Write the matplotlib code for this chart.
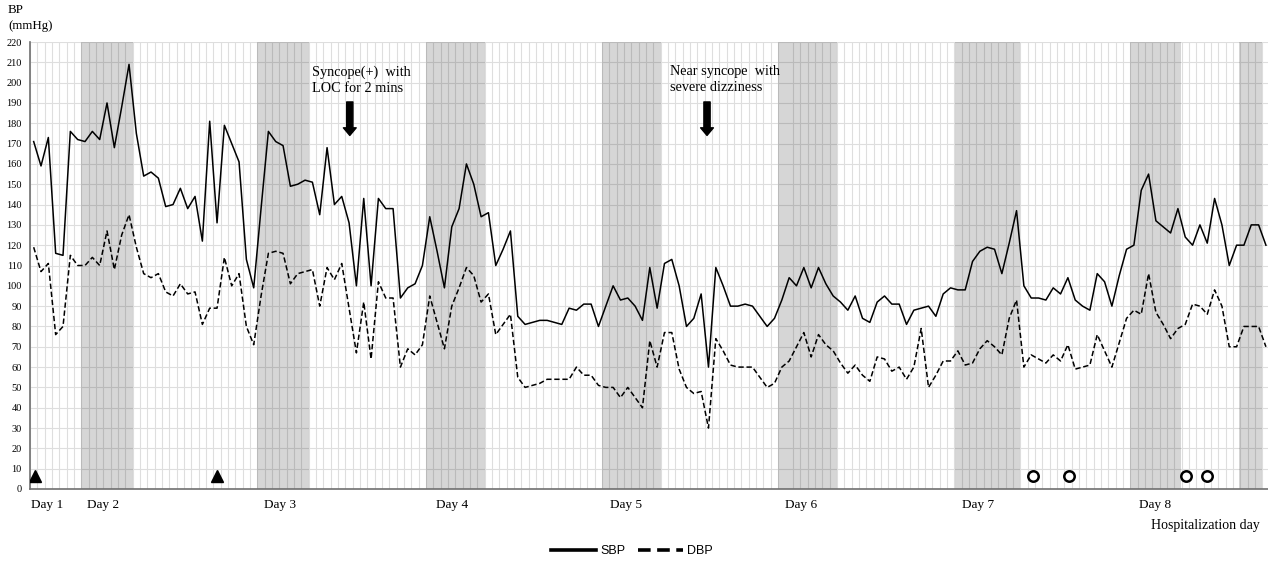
import numpy as np
import matplotlib
matplotlib.use("Agg")
import matplotlib.pyplot as plt

# hourly blood pressure readings (mmHg)
sbp = [171, 159, 173, 116, 115, 176, 172, 171, 176, 172,
       190, 168, 188, 209, 175, 154, 156, 153, 139, 140,
       148, 138, 144, 122, 181, 131, 179, 170, 161, 113,
       99, 138, 176, 171, 169, 149, 150, 152, 151, 135,
       168, 140, 144, 131, 100, 143, 100, 143, 138, 138,
       94, 99, 101, 110, 134, 117, 99, 129, 138, 160,
       150, 134, 136, 110, 118, 127, 85, 81, 82, 83,
       83, 82, 81, 89, 88, 91, 91, 80, 90, 100,
       93, 94, 90, 83, 109, 89, 111, 113, 100, 80,
       84, 96, 60, 109, 100, 90, 90, 91, 90, 85,
       80, 84, 93, 104, 100, 109, 99, 109, 101, 95,
       92, 88, 95, 84, 82, 92, 95, 91, 91, 81,
       88, 89, 90, 85, 96, 99, 98, 98, 112, 117,
       119, 118, 106, 121, 137, 100, 94, 94, 93, 99,
       96, 104, 93, 90, 88, 106, 102, 90, 105, 118,
       120, 147, 155, 132, 129, 126, 138, 124, 120, 130,
       121, 143, 130, 110, 120, 120, 130, 130, 120]

dbp = [119, 107, 111, 76, 80, 115, 110, 110, 114, 110,
       127, 108, 125, 135, 119, 106, 104, 106, 97, 95,
       101, 96, 97, 81, 89, 89, 114, 100, 106, 80,
       71, 95, 116, 117, 116, 101, 106, 107, 108, 90,
       109, 103, 111, 89, 67, 92, 64, 102, 94, 94,
       60, 69, 66, 71, 95, 82, 69, 90, 99, 109,
       105, 92, 96, 76, 81, 86, 55, 50, 51, 52,
       54, 54, 54, 54, 60, 56, 56, 51, 50, 50,
       45, 50, 45, 40, 73, 60, 77, 77, 59, 50,
       47, 48, 30, 74, 68, 61, 60, 60, 60, 55,
       50, 52, 60, 63, 70, 77, 65, 76, 71, 68,
       62, 57, 61, 56, 53, 65, 64, 58, 60, 54,
       60, 79, 50, 56, 63, 63, 68, 61, 62, 69,
       73, 70, 66, 84, 93, 60, 66, 64, 62, 66,
       63, 71, 59, 60, 61, 76, 68, 60, 72, 84,
       88, 86, 106, 87, 81, 74, 79, 81, 91, 90,
       86, 98, 90, 70, 70, 80, 80, 80, 70]

# night-time shading, in reading index units
night_bands = [(6.45, 13.6), (30.5, 37.6), (53.55, 61.5), (77.45, 85.5),
               (101.5, 109.5), (125.6, 134.45), (149.45, 156.4), (164.3, 167.4)]

day_labels = ["Day 1", "Day 2", "Day 3", "Day 4", "Day 5", "Day 6", "Day 7", "Day 8"]
day_pos = [-0.3, 7.3, 31.4, 54.9, 78.6, 102.5, 126.6, 150.7]

triangle_pos = [0.2, 25]
circle_pos = [136.2, 141.2, 157.1, 159.9]
marker_level = 6.4

event_pos = [43.1, 91.8]
event_text = ["Syncope(+)  with\nLOC for 2 mins", "Near syncope  with\nsevere dizziness"]
event_text_x = [37.9, 86.7]

serif = "Liberation Serif"
W, H = 1268, 563

fig = plt.figure(figsize=(W / 100, H / 100), dpi=100)
ax = fig.add_axes([30 / W, 74 / H, 1239.6 / W, 447 / H])

x = np.arange(len(sbp))

for a, b in night_bands:
    ax.axvspan(a, b, color="k", alpha=0.16, lw=0, zorder=1)

ax.plot(x, sbp, color="k", lw=1.1, zorder=3, label="SBP")
ax.plot(x, dbp, color="k", lw=1.1, ls=(0, (3.5, 1.8)), zorder=3, label="DBP")

ax.plot(triangle_pos, [marker_level] * len(triangle_pos), ls="none", marker="^",
        ms=9, color="k", zorder=4)
ax.plot(circle_pos, [marker_level] * len(circle_pos), ls="none", marker="o",
        ms=7.5, mfc="white", mec="k", mew=1.8, zorder=4)

for xp, txt, tx in zip(event_pos, event_text, event_text_x):
    ax.text(tx, 208.6, txt, fontsize=10.3, family=serif, va="top", ha="left",
            linespacing=1.3, zorder=5)
    ax.annotate("", xy=(xp, 174), xytext=(xp, 190.5),
                arrowprops=dict(arrowstyle="simple,head_width=0.92,head_length=0.55,tail_width=0.45",
                                mutation_scale=10, color="k", shrinkA=0, shrinkB=0), zorder=5)

ax.set_xlim(-0.5, len(sbp) - 0.5)
ax.set_ylim(0, 220)
ax.set_yticks(np.arange(0, 221, 10))
ax.set_xticks(day_pos, day_labels)
ax.set_xticks(np.arange(-0.5, len(sbp), 1), minor=True)
for lab in ax.get_xticklabels():
    lab.set_horizontalalignment("left")
    lab.set_family(serif)
    lab.set_fontsize(9.5)
for lab in ax.get_yticklabels():
    lab.set_family(serif)
    lab.set_fontsize(7.5)
ax.tick_params(axis="both", which="both", length=0)
ax.tick_params(axis="x", pad=7)
ax.tick_params(axis="y", pad=6)

ax.grid(False)
ax.xaxis.grid(True, which="minor", color="#dedede", lw=0.8, zorder=0)
ax.yaxis.grid(True, which="major", color="#dedede", lw=0.8, zorder=0)
ax.set_axisbelow(True)

for s in ["top", "right"]:
    ax.spines[s].set_visible(False)
for s in ["left", "bottom"]:
    ax.spines[s].set_color("#707070")
    ax.spines[s].set_linewidth(1.2)

fig.text(8 / W, 1 - 4 / H, "BP\n(mmHg)", fontsize=9.3, family=serif, va="top", ha="left",
         linespacing=1.5)
fig.text(1260 / W, 1 - 525 / H, "Hospitalization day", fontsize=10, family=serif,
         va="center", ha="right")

leg = fig.legend(loc="center", bbox_to_anchor=(632 / W, 12 / H), ncol=2, frameon=False,
                 prop={"family": "Liberation Sans", "size": 9}, handlelength=3.6,
                 handletextpad=0.35, columnspacing=1.0)
for ln in leg.get_lines():
    ln.set_linewidth(2.6)

fig.savefig("out.png", dpi=100)
